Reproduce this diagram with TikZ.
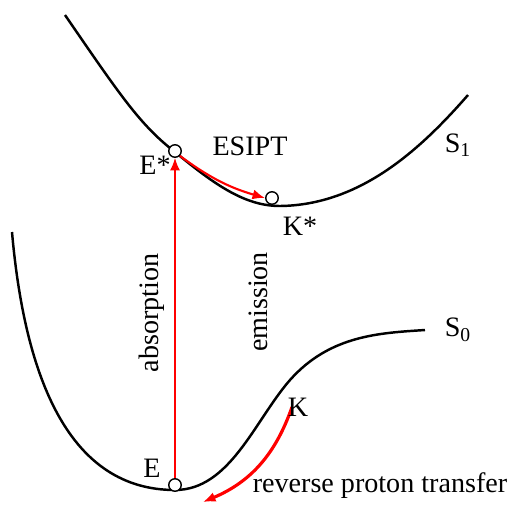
\documentclass[tikz,border=0pt]{standalone}
\usepackage{fontspec}
\setmainfont{Liberation Serif}
\usetikzlibrary{positioning,arrows.meta}

\begin{document}
\begin{tikzpicture}[
    x=0.02cm, y=-0.02cm,
    curve/.style={
        line width=1.4pt,
        black
    },
    state/.style={
        draw,
        circle,
        fill=white,
        line width=0.8pt,
        inner sep=0pt,
        minimum size=0.25cm
    },
    redarrow/.style={
        -{Latex[length=2.5mm,width=2mm]},
        red,
        line width=1pt
    },
    label/.style={
        font=\fontsize{16}{18}\selectfont,
        inner sep=1pt
    }
]

\useasboundingbox (0,0) rectangle (510,515);

% potential energy curves
\draw[curve] (65,15) .. controls (120,95) and (140,125) .. (175,152)
    .. controls (215,185) and (245,206) .. (280,206)
    .. controls (360,205) and (420,150) .. (468,95);
\draw[curve] (12,232) .. controls (25,380) and (70,490) .. (175,490)
    .. controls (230,490) and (255,420) .. (290,380)
    .. controls (330,335) and (380,333) .. (425,330);

\coordinate (rpt) at (292,407);
\coordinate (rptend) at (203,502);

% states
\node[state] (E) at (175,485) {};
\node[state] (Estar) at (175,151) {};
\node[state] (Kstar) at (272,198) {};

% transitions
\draw[redarrow, line width=0.8pt] (E) -- (Estar);
\draw[redarrow, line width=1.2pt] (Estar.south east) to[bend right=10] (Kstar.west);
\draw[redarrow, line width=1.8pt] (rpt) to[bend left=24] (rptend);

% labels
\node[label] (Elab) at (152,468) {E};
\node[label] (Estarlab) at (155,165) {E*};
\node[label] (esipt) at (250,146) {ESIPT};
\node[label] (Kstarlab) at (300,226) {K*};
\node[label] (Klab) at (298,407) {K};
\node[label] (S1) at (458,145) {S\textsubscript{1}};
\node[label] (S0) at (458,330) {S\textsubscript{0}};
\node[label, rotate=90] (absorption) at (152,313) {absorption};
\node[label, rotate=90] (emission) at (258,302) {emission};
\node[label] (reverse) at (380,486) {reverse proton transfer};

\end{tikzpicture}
\end{document}
